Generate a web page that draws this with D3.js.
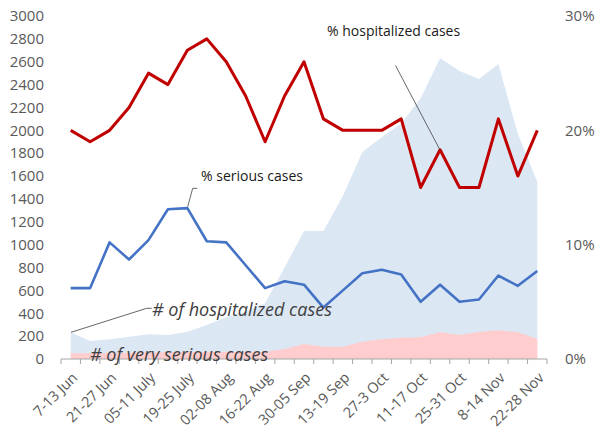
<!DOCTYPE html>
<html>
<head>
<meta charset="utf-8">
<script src="https://cdn.jsdelivr.net/npm/d3@7"></script>
<style>
  body { margin: 0; background: #fff; }
  svg text { font-family: "Open Sans", "Liberation Sans", sans-serif; }
</style>
</head>
<body>
<div id="chart"></div>
<script>
// Weekly data, 7-13 Jun to 22-28 Nov
const weeks = ['7-13 Jun', '14-20 Jun', '21-27 Jun', '28-04 July', '05-11 July', '12-18 July',
  '19-25 July', '26-01 Aug', '02-08 Aug', '09-15 Aug', '16-22 Aug', '23-29 Aug', '30-05 Sep',
  '06-12 Sep', '13-19 Sep', '20-26 Sep', '27-3 Oct', '4-10 Oct', '11-17 Oct', '18-24 Oct',
  '25-31 Oct', '1-7 Nov', '8-14 Nov', '15-21 Nov', '22-28 Nov'];

// # of hospitalized cases (left axis)
const hospitalized = [234, 157, 172, 195, 216, 210, 239, 297, 365, 415, 488, 800, 1120, 1120,
  1426, 1810, 1940, 2060, 2280, 2630, 2520, 2450, 2580, 1970, 1550];
// # of very serious cases (left axis)
const verySerious = [50, 50, 52, 55, 57, 58, 60, 62, 62, 62, 64, 88, 131, 108, 108, 150, 172,
  185, 190, 233, 210, 237, 252, 233, 175];
// % hospitalized cases (right axis)
const pctHospitalized = [20, 19, 20, 22, 25, 24, 27, 28, 26, 23, 19, 23, 26, 21, 20, 20, 20, 21,
  15, 18.3, 15, 15, 21, 16, 20];
// % serious cases (right axis)
const pctSerious = [6.2, 6.2, 10.2, 8.7, 10.4, 13.1, 13.2, 10.3, 10.2, 8.2, 6.2, 6.8, 6.5, 4.5,
  6.0, 7.5, 7.8, 7.4, 5.0, 6.5, 5.0, 5.2, 7.3, 6.4, 7.7];

const leftTicks = d3.range(0, 3001, 200);
const rightTicks = [0, 10, 20, 30];

const width = 595, height = 434;
const margin = {top: 16, right: 48, bottom: 75, left: 61};

const svg = d3.select('#chart').append('svg')
  .attr('width', width)
  .attr('height', height);

const x = d3.scaleBand()
  .domain(weeks)
  .range([margin.left, width - margin.right]);

const yLeft = d3.scaleLinear()
  .domain([0, 3000])
  .range([height - margin.bottom, margin.top]);

const yRight = d3.scaleLinear()
  .domain([0, 30])
  .range([height - margin.bottom, margin.top]);

const cx = d => x(d) + x.bandwidth() / 2;

// Areas
const area = d3.area()
  .x((d, i) => cx(weeks[i]))
  .y0(yLeft(0))
  .y1(d => yLeft(d));

svg.append('path')
  .datum(hospitalized)
  .attr('fill', '#dce7f4')
  .attr('d', area);

svg.append('path')
  .datum(verySerious)
  .attr('fill', '#ffcdcd')
  .attr('d', area);

// Lines
const line = d3.line()
  .x((d, i) => cx(weeks[i]))
  .y(d => yRight(d));

svg.append('path')
  .datum(pctHospitalized)
  .attr('fill', 'none')
  .attr('stroke', '#c00000')
  .attr('stroke-width', 3)
  .attr('stroke-linejoin', 'round')
  .attr('d', line);

svg.append('path')
  .datum(pctSerious)
  .attr('fill', 'none')
  .attr('stroke', '#4472c4')
  .attr('stroke-width', 2.6)
  .attr('stroke-linejoin', 'round')
  .attr('d', line);

// Bottom axis
const xAxis = svg.append('g')
  .attr('transform', `translate(0,${height - margin.bottom})`);

xAxis.append('line')
  .attr('x1', margin.left).attr('x2', width - margin.right)
  .attr('y1', 0).attr('y2', 0)
  .attr('stroke', '#a6a6a6');

const tickPos = weeks.map(w => x(w)).concat([x(weeks[weeks.length - 1]) + x.bandwidth()]);
xAxis.selectAll('.tk')
  .data(tickPos)
  .enter().append('line')
  .attr('x1', d => d).attr('x2', d => d)
  .attr('y1', 0).attr('y2', 5)
  .attr('stroke', '#a6a6a6');

xAxis.selectAll('.lbl')
  .data(weeks.filter((d, i) => i % 2 === 0))
  .enter().append('text')
  .attr('transform', d => `translate(${cx(d) + 4},${16}) rotate(-45)`)
  .attr('text-anchor', 'end')
  .attr('dy', '0.35em')
  .attr('font-size', '14.5px')
  .attr('fill', '#595959')
  .text(d => d);

// Left axis labels
svg.append('g').selectAll('text')
  .data(leftTicks)
  .enter().append('text')
  .attr('x', 44)
  .attr('y', d => yLeft(d))
  .attr('dy', '0.35em')
  .attr('text-anchor', 'end')
  .attr('font-size', '15px')
  .attr('fill', '#595959')
  .text(d => d);

// Right axis labels
svg.append('g').selectAll('text')
  .data(rightTicks)
  .enter().append('text')
  .attr('x', 565)
  .attr('y', d => yRight(d))
  .attr('dy', '0.35em')
  .attr('font-size', '15px')
  .attr('fill', '#595959')
  .text(d => d + '%');

// Annotations with leader lines
const leader = d3.line();
const leaders = [
  [[395.5, 65.5], [440, 150]],
  [[197.3, 188.3], [192.7, 188.3], [187.7, 206.7]],
  [[151.7, 308.3], [146.7, 308.3], [71, 332.3]]
];
svg.append('g').selectAll('path')
  .data(leaders)
  .enter().append('path')
  .attr('d', d => leader(d))
  .attr('fill', 'none')
  .attr('stroke', '#404040')
  .attr('stroke-width', 0.8);

svg.append('text')
  .attr('x', 327).attr('y', 31).attr('dy', '0.35em')
  .attr('font-size', '14px').attr('fill', '#1a1a1a')
  .text('% hospitalized  cases');

svg.append('text')
  .attr('x', 201).attr('y', 176).attr('dy', '0.35em')
  .attr('font-size', '14px').attr('fill', '#1a1a1a')
  .text('% serious cases');

svg.append('text')
  .attr('x', 152).attr('y', 310).attr('dy', '0.35em')
  .attr('font-size', '18px').attr('font-style', 'italic').attr('fill', '#404040')
  .text('# of hospitalized cases');

svg.append('text')
  .attr('x', 90).attr('y', 355).attr('dy', '0.35em')
  .attr('font-size', '18px').attr('font-style', 'italic').attr('fill', '#404040')
  .text('# of very serious cases');
</script>
</body>
</html>
